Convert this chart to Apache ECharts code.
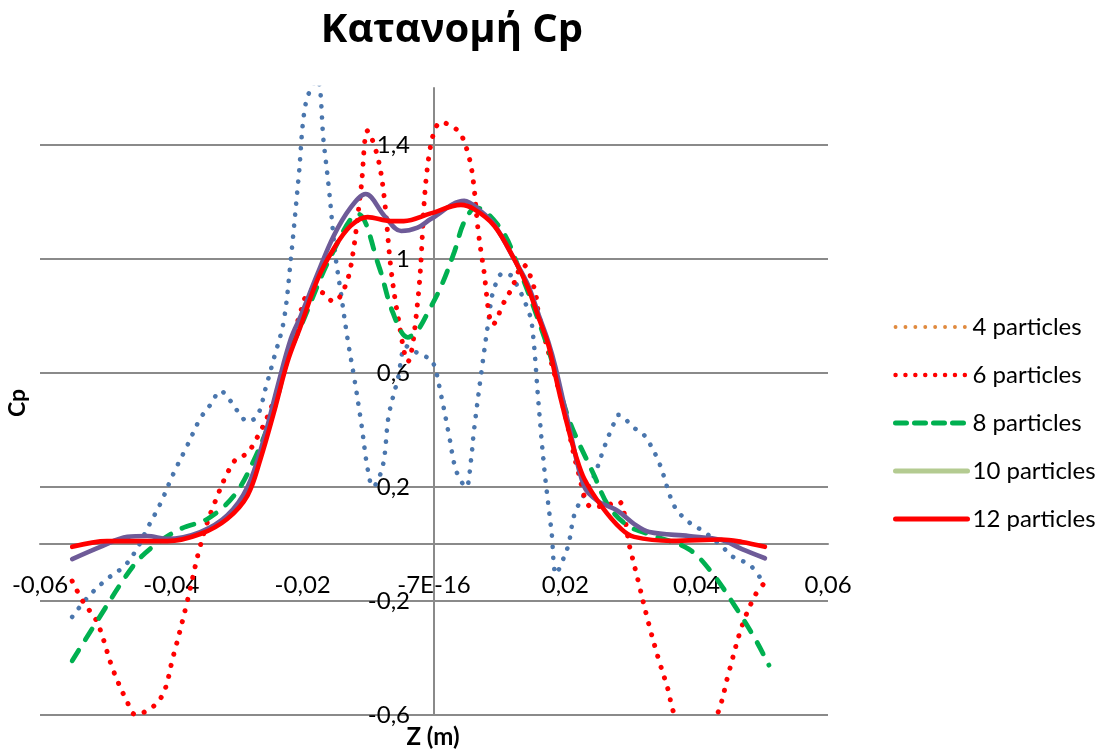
<!DOCTYPE html>
<html>
<head>
<meta charset="utf-8">
<script src="https://cdn.jsdelivr.net/npm/echarts@6/dist/echarts.min.js"></script>
<style>
  html, body { margin: 0; padding: 0; background: #ffffff; }
  #chart { width: 1101px; height: 751px; }
</style>
</head>
<body>
<div id="chart"></div>
<script>
// Pressure coefficient along the axis for each particle count
const titleText = 'Κατανομή Cp';
const xAxisTitle = 'Z (m)';
const yAxisTitle = 'Cp';

const seriesNames = ['4 particles', '6 particles', '8 particles', '10 particles', '12 particles'];

const z4 = [-0.0551,-0.0527,-0.0498,-0.047,-0.045,-0.0437,-0.0417,-0.0397,-0.0376,-0.0356,-0.034,-0.0325,-0.031,-0.0298,-0.0284,-0.0269,-0.0256,-0.0244,-0.0229,-0.0218,-0.0206,-0.0195,-0.0178,-0.0168,-0.016,-0.015,-0.0142,-0.0131,-0.0122,-0.0111,-0.0101,-0.0093,-0.0078,-0.0069,-0.0055,-0.0043,-0.0031,-0.0015,-0.0002,0.0011,0.0023,0.0034,0.0049,0.0056,0.0061,0.0072,0.0084,0.009,0.0105,0.0118,0.0145,0.0151,0.0159,0.0168,0.0179,0.0186,0.0198,0.0205,0.0214,0.0229,0.0244,0.026,0.0273,0.0281,0.0305,0.032,0.0342,0.0366,0.0388,0.0412,0.0441,0.0453,0.0481,0.0496];
const cp4 = [-0.256,-0.186,-0.123,-0.074,-0.007,0.053,0.14,0.246,0.344,0.44,0.49,0.537,0.502,0.463,0.43,0.45,0.55,0.65,0.78,1.0,1.29,1.55,1.63,1.41,1.246,1.01,0.884,0.71,0.59,0.428,0.263,0.2,0.274,0.45,0.58,0.695,0.677,0.66,0.64,0.52,0.38,0.256,0.2,0.288,0.40,0.60,0.80,0.884,0.95,0.94,0.81,0.73,0.498,0.263,0.042,-0.105,-0.046,0.0,0.105,0.175,0.24,0.344,0.418,0.453,0.407,0.382,0.29,0.133,0.077,0.042,-0.014,-0.042,-0.074,-0.116];

const z6 = [-0.0551,-0.0534,-0.0513,-0.0489,-0.0467,-0.0455,-0.0417,-0.0397,-0.0376,-0.0356,-0.0336,-0.0305,-0.0284,-0.0269,-0.0253,-0.0229,-0.0205,-0.0187,-0.0168,-0.0153,-0.014,-0.0127,-0.0111,-0.0101,-0.0086,-0.0076,-0.0066,-0.0055,-0.004,-0.0024,-0.0009,0.0011,0.0038,0.0053,0.006,0.0067,0.0075,0.009,0.0107,0.0118,0.0136,0.0153,0.016,0.0198,0.022,0.024,0.0262,0.0281,0.0298,0.0311,0.0327,0.0342,0.0357,0.0365,0.040,0.0431,0.0449,0.0469,0.0489,0.0502];
const cp6 = [-0.13,-0.204,-0.274,-0.44,-0.555,-0.598,-0.544,-0.393,-0.204,-0.007,0.133,0.288,0.32,0.375,0.45,0.6,0.8,0.89,0.88,0.85,0.88,0.97,1.25,1.45,1.36,1.22,0.975,0.80,0.64,0.87,1.34,1.48,1.446,1.36,1.27,1.105,0.975,0.77,0.85,0.895,0.98,0.895,0.80,0.47,0.25,0.13,0.135,0.15,-0.01,-0.13,-0.28,-0.404,-0.515,-0.59,-0.72,-0.6,-0.45,-0.288,-0.18,-0.14];

const z8 = [-0.0551,-0.0513,-0.0458,-0.0427,-0.0386,-0.0345,-0.0305,-0.0275,-0.0244,-0.0223,-0.0198,-0.0157,-0.0116,-0.0084,-0.0063,-0.004,-0.0025,-0.0009,0.0011,0.0031,0.0046,0.0064,0.0102,0.0128,0.0174,0.0205,0.0244,0.0266,0.0296,0.0336,0.0388,0.0423,0.0458,0.0489,0.051];
const cp8 = [-0.41,-0.27,-0.077,-0.007,0.053,0.088,0.168,0.29,0.47,0.65,0.79,1.01,1.158,0.975,0.814,0.725,0.75,0.814,0.905,1.025,1.13,1.18,1.105,0.975,0.684,0.44,0.24,0.133,0.063,0.028,-0.018,-0.1,-0.217,-0.333,-0.425];

const z10 = [-0.0551,-0.0508,-0.0467,-0.0437,-0.0406,-0.0356,-0.0315,-0.0284,-0.0259,-0.0238,-0.0218,-0.0203,-0.0177,-0.0153,-0.0127,-0.0104,-0.0075,-0.005,-0.0025,-0.0005,0.0046,0.007,0.0092,0.0122,0.0143,0.016,0.0174,0.0185,0.0205,0.0229,0.025,0.028,0.0305,0.0328,0.0388,0.0438,0.0469,0.0504];
const cp10 = [-0.053,-0.01,0.025,0.028,0.018,0.042,0.1,0.2,0.37,0.555,0.72,0.8,0.95,1.08,1.18,1.228,1.15,1.098,1.11,1.14,1.204,1.17,1.12,1.0,0.91,0.8,0.71,0.62,0.42,0.2,0.15,0.116,0.07,0.042,0.028,0.014,-0.018,-0.05];

const z12 = [-0.0551,-0.0498,-0.0406,-0.0356,-0.0315,-0.0284,-0.0264,-0.0244,-0.0223,-0.0203,-0.0177,-0.0153,-0.0127,-0.0101,-0.0066,-0.0046,-0.0005,0.0041,0.0061,0.0092,0.0122,0.0143,0.016,0.0174,0.0183,0.0194,0.0205,0.0216,0.0229,0.0255,0.0285,0.0305,0.0362,0.0438,0.0469,0.0504];
const cp12 = [-0.01,0.01,0.01,0.035,0.088,0.17,0.3,0.46,0.64,0.765,0.93,1.035,1.116,1.147,1.133,1.133,1.16,1.19,1.175,1.116,1.0,0.9,0.79,0.7,0.61,0.5,0.4,0.31,0.228,0.133,0.053,0.025,0.011,0.016,0.007,-0.01];

const xTicks = [-0.06, -0.04, -0.02, 0, 0.02, 0.04, 0.06];
const xTickLabels = ['-0,06', '-0,04', '-0,02', '-7E-16', '0,02', '0,04', '0,06'];
const yTicks = [-0.6, -0.2, 0.2, 0.6, 1.0, 1.4];
const yTickLabels = ['-0,6', '-0,2', '0,2', '0,6', '1', '1,4'];

// Curve colours and legend swatch colours
const lineColors = ['#4a76ad', '#ff0000', '#00b050', '#6e5b98', '#ff0000'];
const legendColors = ['#e08a3e', '#ff0000', '#00b050', '#b4cb91', '#ff0000'];

const zipPoints = (xs, ys) => xs.map((x, i) => [x, ys[i]]);
const tickLabel = (ticks, labels) => (v) => {
  const i = ticks.findIndex(t => Math.abs(t - v) < 1e-9);
  return i >= 0 ? labels[i] : '';
};

const lineStyles = [
  { color: lineColors[0], type: [0.1, 11], cap: 'round', width: 4.6 },
  { color: lineColors[1], type: [0.1, 11.2], cap: 'round', width: 5 },
  { color: lineColors[2], type: [12.5, 12.5], cap: 'round', width: 4.8 },
  { color: lineColors[3], type: 'solid', cap: 'round', width: 4.6 },
  { color: lineColors[4], type: 'solid', cap: 'round', width: 4.6 }
];
const legendLineStyles = [
  { color: legendColors[0], type: [0.1, 9.8], cap: 'round', width: 3.8 },
  { color: legendColors[1], type: [0.1, 9.8], cap: 'round', width: 4.4 },
  { color: legendColors[2], type: [11, 8], cap: 'round', width: 5 },
  { color: legendColors[3], type: 'solid', cap: 'round', width: 5 },
  { color: legendColors[4], type: 'solid', cap: 'round', width: 5 }
];

const pointSets = [zipPoints(z4, cp4), zipPoints(z6, cp6), zipPoints(z8, cp8), zipPoints(z10, cp10), zipPoints(z12, cp12)];

const labelFont = 'Lato';
const gridColor = '#8a8a8a';

// Plot rectangle; the axes cross at the origin inside it
const W = 1101, H = 751;
const grid = { left: 40, right: 273, top: 88, bottom: 36 };
const xMin = -0.06, xMax = 0.06, yMin = -0.6, yMax = 1.6;
const plotW = W - grid.left - grid.right;
const plotH = H - grid.top - grid.bottom;
const yAxisShift = -plotW * (0 - xMin) / (xMax - xMin);   // move the vertical axis from the left edge to x = 0
const xAxisShift = -plotH * (0 - yMin) / (yMax - yMin);   // move the horizontal axis from the bottom edge to y = 0

const chart = echarts.init(document.getElementById('chart'), null, { renderer: 'canvas' });
chart.setOption({
  animation: false,
  backgroundColor: '#ffffff',
  grid: Object.assign({ containLabel: false, outerBoundsMode: 'none' }, grid),
  xAxis: {
    type: 'value',
    min: xMin, max: xMax, interval: 0.02,
    position: 'bottom',
    offset: xAxisShift,
    axisLine: { show: true, onZero: false, lineStyle: { color: gridColor, width: 2 } },
    axisTick: { show: false },
    splitLine: { show: false },
    axisLabel: {
      margin: 29, color: '#000', fontFamily: labelFont, fontSize: 24,
      formatter: tickLabel(xTicks, xTickLabels)
    }
  },
  yAxis: {
    type: 'value',
    min: yMin, max: yMax, interval: 0.4,
    position: 'left',
    offset: yAxisShift,
    axisLine: { show: true, onZero: false, lineStyle: { color: gridColor, width: 2 } },
    axisTick: { show: false },
    splitLine: { show: true, showMaxLine: false, lineStyle: { color: gridColor, width: 2 } },
    axisLabel: {
      margin: 24, color: '#000', fontFamily: labelFont, fontSize: 24, showMaxLabel: false,
      formatter: tickLabel(yTicks, yTickLabels)
    }
  },
  legend: {
    orient: 'vertical',
    left: 893, top: 315,
    itemWidth: 72, itemHeight: 20, itemGap: 24,
    padding: 0,
    selectedMode: false,
    itemStyle: { opacity: 0 },
    textStyle: { color: '#000', fontFamily: labelFont, fontSize: 24 },
    data: seriesNames.map((name, i) => ({ name, lineStyle: legendLineStyles[i], itemStyle: { opacity: 0 } }))
  },
  graphic: [
    { type: 'text', x: 452, y: 31, style: { text: titleText, fontFamily: 'Open Sans', fontWeight: 'bold', fontSize: 40, fill: '#000', align: 'center', verticalAlign: 'middle' } },
    { type: 'text', x: 18, y: 403, rotation: Math.PI / 2, style: { text: yAxisTitle, fontFamily: labelFont, fontWeight: 'bold', fontSize: 23, fill: '#000', align: 'center', verticalAlign: 'middle' } },
    { type: 'text', x: 433, y: 737, style: { text: xAxisTitle, fontFamily: labelFont, fontWeight: 'bold', fontSize: 24, fill: '#000', align: 'center', verticalAlign: 'middle' } }
  ],
  series: seriesNames.map((name, i) => ({
    name,
    type: 'line',
    data: pointSets[i],
    smooth: 0.35,
    symbol: 'none',
    clip: true,
    silent: true,
    itemStyle: { color: legendColors[i] },
    lineStyle: lineStyles[i],
    emphasis: { disabled: true },
    z: 2 + i
  }))
});
</script>
</body>
</html>
